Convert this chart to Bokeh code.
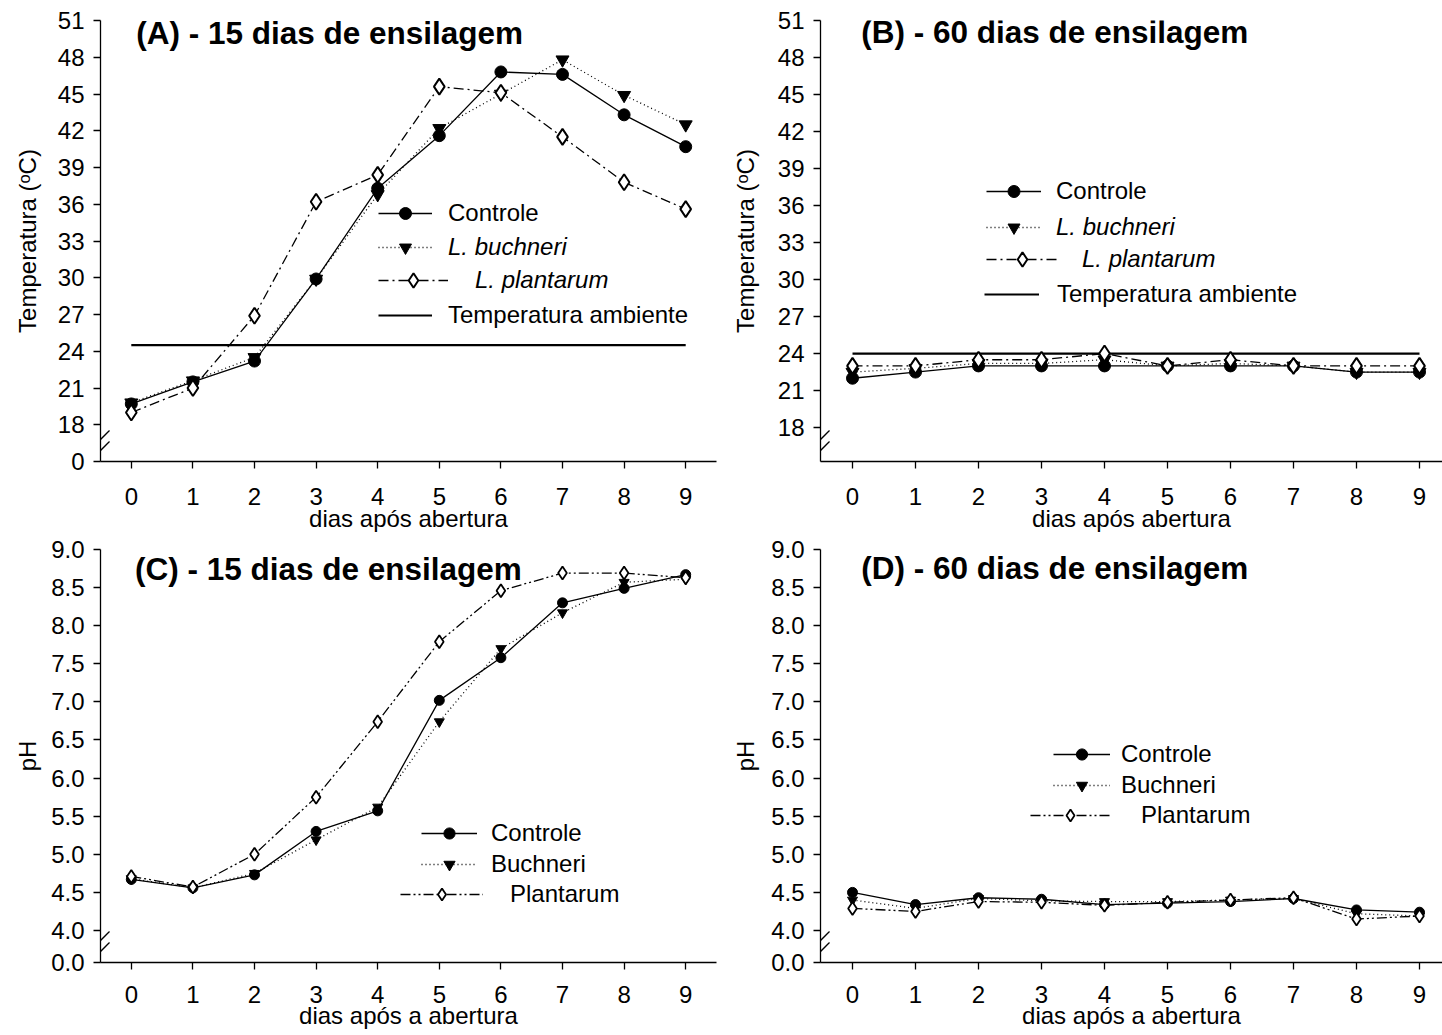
from bokeh.plotting import figure
from bokeh.layouts import gridplot
from bokeh.models import (Legend, LegendItem, Label, Arrow, FixedTicker,
                          CustomJSTickFormatter, Range1d)
from bokeh.embed import file_html
from bokeh.resources import INLINE

# ---------------- data ----------------
dias = [0, 1, 2, 3, 4, 5, 6, 7, 8, 9]
x_ticks = [0, 1, 2, 3, 4, 5, 6, 7, 8, 9]

# (A) temperature, 15 days of ensiling
temp15_controle = [19.7, 21.5, 23.2, 29.9, 37.3, 41.6, 46.8, 46.6, 43.3, 40.7]
temp15_buchneri = [19.8, 21.6, 23.5, 29.9, 36.8, 42.2, 45.0, 47.8, 44.9, 42.5]
temp15_plantarum = [19.0, 21.0, 26.9, 36.2, 38.4, 45.6, 45.1, 41.5, 37.8, 35.6]
temp15_ambiente = [24.5, 24.5, 24.5, 24.5, 24.5, 24.5, 24.5, 24.5, 24.5, 24.5]

# (B) temperature, 60 days of ensiling
temp60_controle = [22.0, 22.5, 23.0, 23.0, 23.0, 23.0, 23.0, 23.0, 22.5, 22.5]
temp60_buchneri = [22.5, 22.8, 23.2, 23.2, 23.5, 23.0, 23.2, 23.0, 22.5, 22.5]
temp60_plantarum = [23.0, 23.0, 23.5, 23.5, 24.0, 23.0, 23.5, 23.0, 23.0, 23.0]
temp60_ambiente = [24.0, 24.0, 24.0, 24.0, 24.0, 24.0, 24.0, 24.0, 24.0, 24.0]

# (C) pH, 15 days of ensiling
ph15_controle = [4.67, 4.56, 4.73, 5.30, 5.57, 7.02, 7.58, 8.30, 8.49, 8.67]
ph15_buchneri = [4.68, 4.56, 4.75, 5.19, 5.62, 6.74, 7.70, 8.17, 8.57, 8.61]
ph15_plantarum = [4.71, 4.57, 5.00, 5.75, 6.74, 7.79, 8.46, 8.69, 8.69, 8.63]

# (D) pH, 60 days of ensiling
ph60_controle = [4.50, 4.34, 4.43, 4.41, 4.34, 4.36, 4.38, 4.42, 4.27, 4.24]
ph60_buchneri = [4.40, 4.29, 4.42, 4.39, 4.38, 4.38, 4.40, 4.42, 4.22, 4.19]
ph60_plantarum = [4.29, 4.25, 4.38, 4.37, 4.33, 4.37, 4.40, 4.43, 4.15, 4.19]

# axis ticks (lowest tick sits at the axis break and is labelled as zero)
temp_ticks = [15, 18, 21, 24, 27, 30, 33, 36, 39, 42, 45, 48, 51]
ph_ticks = [3.58, 4.0, 4.5, 5.0, 5.5, 6.0, 6.5, 7.0, 7.5, 8.0, 8.5, 9.0]

FONT = "Liberation Sans"


def make_fig(xr, yr, fw, fh, bl, br, bt, bb, yticks, ydec, zero_label,
             ylabel, xlabel, ylab_standoff, xl_standoff, xa_standoff):
    p = figure(frame_width=fw, frame_height=fh,
               x_range=Range1d(*xr), y_range=Range1d(*yr),
               min_border_left=bl, min_border_right=br,
               min_border_top=bt, min_border_bottom=bb,
               output_backend="svg", toolbar_location=None,
               background_fill_color="white", border_fill_color="white",
               outline_line_color=None)
    p.grid.visible = False
    for ax in (p.xaxis[0], p.yaxis[0]):
        ax.axis_line_color = "black"
        ax.axis_line_width = 1.3
        ax.major_tick_line_color = "black"
        ax.major_tick_line_width = 1.3
        ax.major_tick_out = 7
        ax.major_tick_in = 0
        ax.minor_tick_line_color = None
        ax.major_label_text_font = FONT
        ax.major_label_text_font_size = "24px"
        ax.major_label_text_color = "black"
        ax.axis_label_text_font = FONT
        ax.axis_label_text_font_size = "24px"
        ax.axis_label_text_font_style = "normal"
        ax.axis_label_text_color = "black"
    p.xaxis.ticker = FixedTicker(ticks=x_ticks)
    p.xaxis.major_label_standoff = xl_standoff
    p.xaxis.axis_label = xlabel
    p.xaxis.axis_label_standoff = xa_standoff
    p.yaxis.ticker = FixedTicker(ticks=yticks)
    p.yaxis.formatter = CustomJSTickFormatter(
        args=dict(b=yr[0], z=zero_label, d=ydec),
        code="return Math.abs(tick - b) < 1e-6 ? z : tick.toFixed(d)")
    p.yaxis.major_label_standoff = 9
    p.yaxis.axis_label = ylabel
    p.yaxis.axis_label_standoff = ylab_standoff
    # axis-break marks on the y axis
    ppx = fw / (xr[1] - xr[0])
    ppy = fh / (yr[1] - yr[0])
    for dx0, dy0, dx1, dy1 in [(-5, 6, 9, 20), (-5, 17, 9, 31)]:
        p.add_layout(Arrow(end=None, start=None,
                           x_start=xr[0] + dx0 / ppx, y_start=yr[0] + dy0 / ppy,
                           x_end=xr[0] + dx1 / ppx, y_end=yr[0] + dy1 / ppy,
                           line_color="black", line_width=1.3))
    return p


def draw(p, y, dash, marker, size, mlw, fill):
    lr = p.line(dias, y, line_color="black", line_width=1.3, line_dash=dash)
    sr = p.scatter(dias, y, marker=marker, size=size, fill_color=fill,
                   line_color="black", line_width=mlw)
    return [lr, sr]


def add_legend(p, label, rends, x, y, gw, gh, standoff, italic):
    lg = Legend(items=[LegendItem(label=label, renderers=rends)],
                location=(x, y), orientation="vertical",
                glyph_width=gw, glyph_height=gh, label_height=gh,
                label_standoff=standoff, label_text_font=FONT,
                label_text_font_size="24px",
                label_text_font_style="italic" if italic else "normal",
                label_text_color="black", label_text_baseline="middle",
                padding=0, margin=0, spacing=0,
                border_line_color=None, background_fill_alpha=0)
    p.add_layout(lg)


def title(p, text, x, y):
    p.add_layout(Label(x=x, y=y, text=text, text_font=FONT,
                       text_font_size="31.5px", text_font_style="bold",
                       text_color="black", text_baseline="middle"))


DASHDOT = "10 4 2 4"
DASHDOTDOT = "10 3 2 3 2 3"
XR_LEFT = (-0.5, 9.5)
XR_RIGHT = (-0.508, 9.365)

# ---------------- (A) ----------------
pA = make_fig(XR_LEFT, (15, 51), 616, 441, 100, 4, 20, 76, temp_ticks, 0, "0",
              "Temperatura (\u1d52C)", "dias após abertura", 14, 19, -3)
ra = pA.line(dias, temp15_ambiente, line_color="black", line_width=2.2)
rc = draw(pA, temp15_controle, "solid", "circle", 12, 1, "black")
rb = draw(pA, temp15_buchneri, "1 3", "inverted_triangle", 13, 1, "black")
rp = draw(pA, temp15_plantarum, DASHDOT, "diamond", 16, 2, "white")
add_legend(pA, "Controle", rc, 278, 233, 54, 30, 16, False)
add_legend(pA, "L. buchneri", rb, 278, 199, 54, 30, 16, True)
add_legend(pA, "L. plantarum", rp, 278, 163, 70, 36, 27, True)
add_legend(pA, "Temperatura ambiente", [ra], 278, 131, 54, 30, 16, False)
title(pA, "(A) - 15 dias de ensilagem", 0.08, 50.0)

# ---------------- (B) ----------------
pB = make_fig(XR_RIGHT, (15.25, 51), 622, 441, 100, 0, 20, 76, temp_ticks, 0, "0",
              "Temperatura (\u1d52C)", "dias após abertura", 16, 19, -3)
ra = pB.line(dias, temp60_ambiente, line_color="black", line_width=2.2)
rc = draw(pB, temp60_controle, "solid", "circle", 12, 1, "black")
rb = draw(pB, temp60_buchneri, "1 3", "inverted_triangle", 13, 1, "black")
rp = draw(pB, temp60_plantarum, DASHDOT, "diamond", 16, 2, "white")
add_legend(pB, "Controle", rc, 166, 255, 55, 30, 15, False)
add_legend(pB, "L. buchneri", rb, 166, 219, 55, 30, 15, True)
add_legend(pB, "L. plantarum", rp, 166, 184, 72, 36, 24, True)
add_legend(pB, "Temperatura ambiente", [ra], 164, 152, 55, 30, 18, False)
title(pB, "(B) - 60 dias de ensilagem", 0.14, 50.03)

# ---------------- (C) ----------------
pC = make_fig(XR_LEFT, (3.58, 9.0), 616, 413, 100, 4, 12, 73, ph_ticks, 1, "0.0",
              "pH", "dias após a abertura", 7, 16, -4)
rc = draw(pC, ph15_controle, "solid", "circle", 10, 1, "black")
rb = draw(pC, ph15_buchneri, "1 3", "inverted_triangle", 10, 1, "black")
rp = draw(pC, ph15_plantarum, DASHDOTDOT, "diamond", 13, 1.8, "white")
add_legend(pC, "Controle", rc, 321, 115, 56, 28, 14, False)
add_legend(pC, "Buchneri", rb, 321, 84, 56, 28, 14, False)
add_legend(pC, "Plantarum", rp, 300, 53, 83, 30, 27, False)
title(pC, "(C) - 15 dias de ensilagem", 0.06, 8.74)

# ---------------- (D) ----------------
pD = make_fig(XR_RIGHT, (3.58, 9.0), 622, 413, 100, 0, 12, 73, ph_ticks, 1, "0.0",
              "pH", "dias após a abertura", 9, 16, -4)
rc = draw(pD, ph60_controle, "solid", "circle", 10, 1, "black")
rb = draw(pD, ph60_buchneri, "1 3", "inverted_triangle", 10, 1, "black")
rp = draw(pD, ph60_plantarum, DASHDOTDOT, "diamond", 13, 1.8, "white")
add_legend(pD, "Controle", rc, 233, 194, 57, 28, 11, False)
add_legend(pD, "Buchneri", rb, 233, 163, 57, 28, 11, False)
add_legend(pD, "Plantarum", rp, 210, 132, 80, 30, 31, False)
title(pD, "(D) - 60 dias de ensilagem", 0.14, 8.76)

grid = gridplot([[pA, pB], [pC, pD]], toolbar_location=None)

open("out.html", "w").write(file_html(grid, INLINE))
